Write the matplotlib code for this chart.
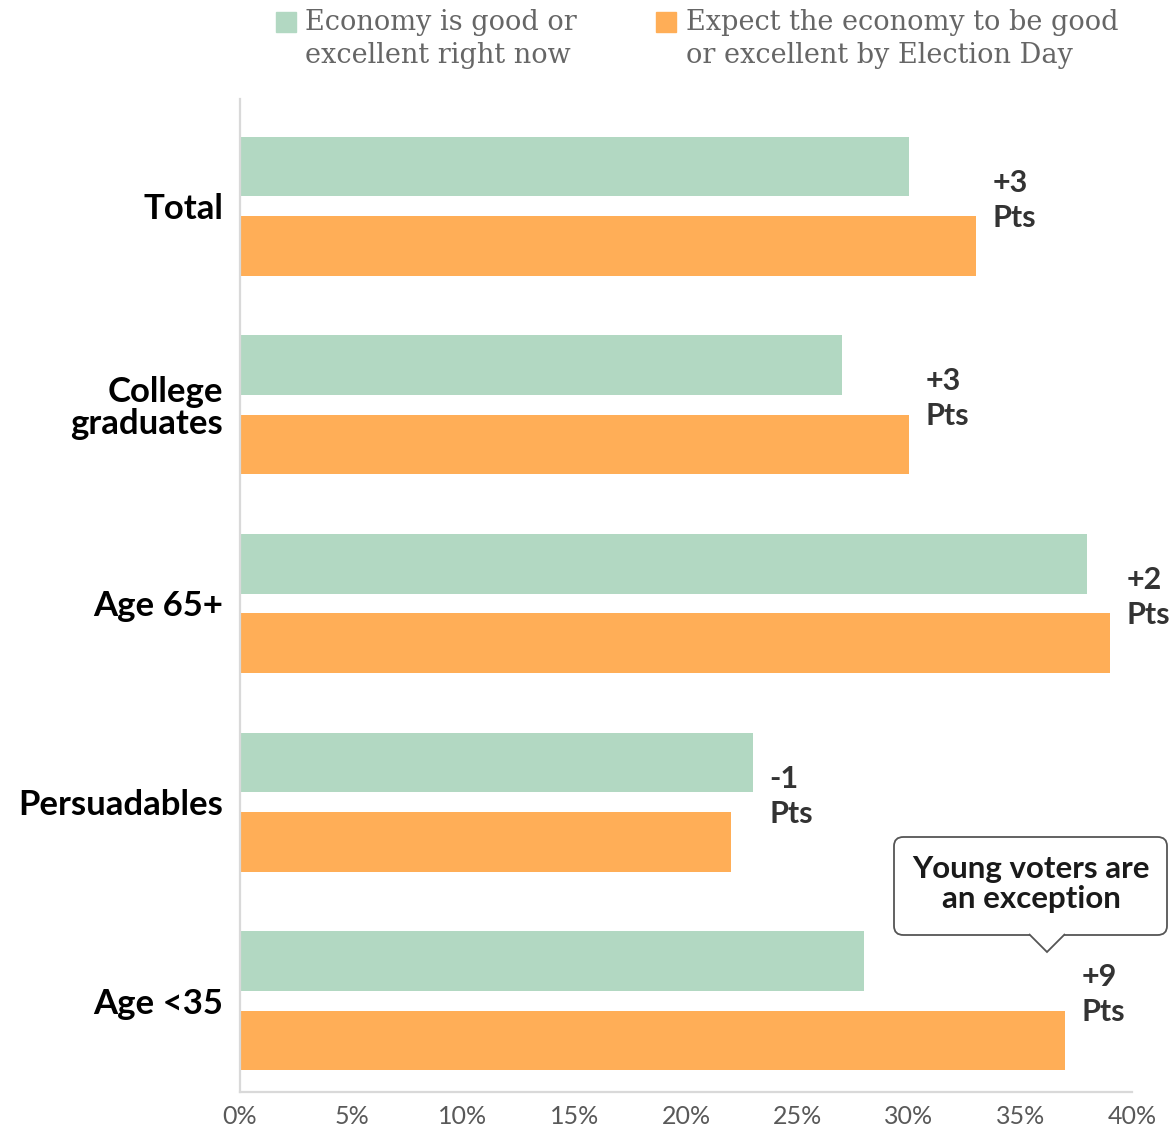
import matplotlib.pyplot as plt
import numpy as np
from matplotlib.patches import FancyBboxPatch, Rectangle, Polygon

groups = ["Total", "College\ngraduates", "Age 65+", "Persuadables", "Age <35"]
good_now = [30, 27, 38, 23, 28]
good_by_election = [33, 30, 39, 22, 37]
shift_labels = ["+3", "+3", "+2", "-1", "+9"]
x_ticks = [0, 5, 10, 15, 20, 25, 30, 35, 40]

green = "#B2D8C2"
orange = "#FFAE57"
sans = ["Lato", "DejaVu Sans"]

fig = plt.figure(figsize=(11.73, 11.31), dpi=100)
ax = fig.add_axes([240 / 1173, 39 / 1131, 892 / 1173, 993 / 1131])

y = np.arange(len(groups))
h = 0.30
ax.barh(y - 0.2, good_now, height=h, color=green)
ax.barh(y + 0.2, good_by_election, height=h, color=orange)

ax.set_xlim(0, 40)
ax.set_ylim(4.46, -0.54)
ax.set_xticks(x_ticks)
ax.set_xticklabels([f"{t}%" for t in x_ticks], family=sans, fontsize=18,
                   color="#595959")
ax.set_yticks(y)
ax.set_yticklabels(groups, family=sans, fontsize=25, fontweight="bold",
                   color="black", linespacing=1.0)
ax.tick_params(axis="x", length=0, pad=9)
ax.tick_params(axis="y", length=0, pad=12)
for s in ["top", "right"]:
    ax.spines[s].set_visible(False)
for s in ["left", "bottom"]:
    ax.spines[s].set_color("#D9D9D9")
    ax.spines[s].set_linewidth(1.6)

# change in points beside each pair of bars
for i, lab in enumerate(shift_labels):
    xr = max(good_now[i], good_by_election[i]) + 0.75
    ax.text(xr, i - 0.03, f"{lab}\nPts", ha="left", va="center",
            family=sans, fontsize=22, fontweight="bold", color="#333333",
            linespacing=1.3)

# legend at the top
W, H = 1173, 1131
def fx(px):
    return px / W
def fy(py):
    return 1 - py / H

fig.patches.append(Rectangle((fx(276), fy(32)), fx(20), 20 / H,
                             transform=fig.transFigure, color=green))
fig.patches.append(Rectangle((fx(656), fy(32)), fx(20), 20 / H,
                             transform=fig.transFigure, color=orange))
fig.text(fx(305), fy(39), "Economy is good or\nexcellent right now",
         ha="left", va="center", family="DejaVu Serif", fontsize=19.5,
         color="#666666", linespacing=1.25)
fig.text(fx(686), fy(39), "Expect the economy to be good\nor excellent by Election Day",
         ha="left", va="center", family="DejaVu Serif", fontsize=19.5,
         color="#666666", linespacing=1.25)

# callout box for young voters
box = FancyBboxPatch((fx(894), fy(935)), fx(1167) - fx(894), fy(837) - fy(935),
                     boxstyle="round,pad=0,rounding_size=0.008",
                     transform=fig.transFigure, facecolor="white",
                     edgecolor="#555555", linewidth=1.3)
fig.patches.append(box)
notch = Polygon([(fx(1029), fy(934)), (fx(1047), fy(952)), (fx(1065), fy(934))],
                closed=False, transform=fig.transFigure, facecolor="white",
                edgecolor="#555555", linewidth=1.3, zorder=3)
fig.patches.append(notch)
fig.text(fx(1031), fy(884), "Young voters are\nan exception", ha="center",
         va="center", family=sans, fontsize=22.5, fontweight="bold",
         color="#1a1a1a", linespacing=1.05)

fig.savefig("out.png", dpi=100, facecolor="white")
